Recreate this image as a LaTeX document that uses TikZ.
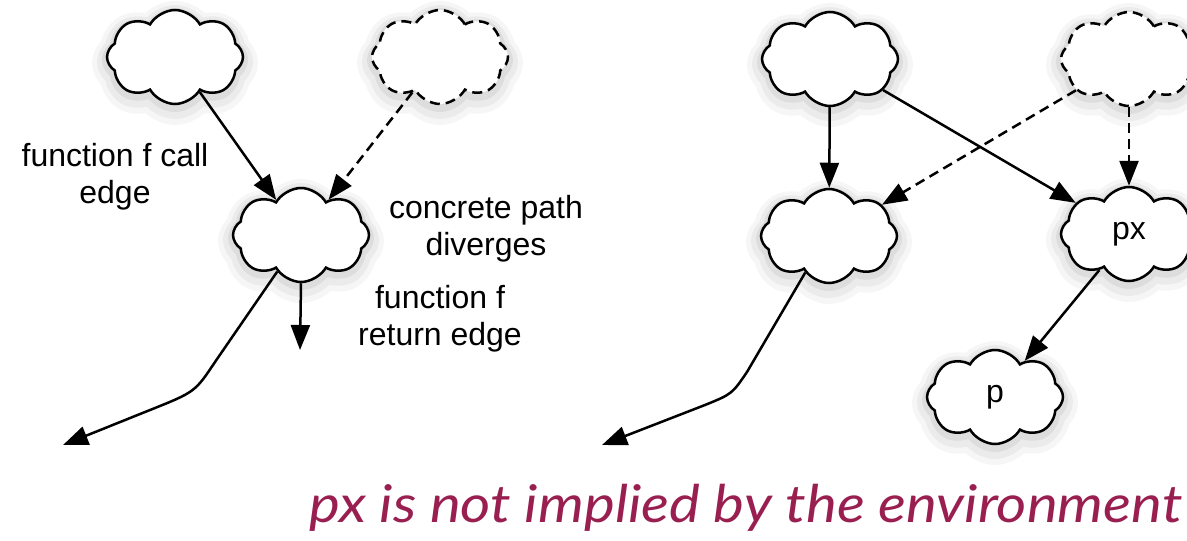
\documentclass[tikz,border=0pt]{standalone}
\usepackage{fontspec}
\setmainfont{Liberation Sans}
\newfontfamily\notefont{Lato}[FakeStretch=1.12]
\usetikzlibrary{shapes.symbols,arrows.meta}
\definecolor{notecol}{RGB}{153,31,80}
\tikzset{
  halo/.style={
    preaction={draw=black, solid, opacity=.035, line width=30pt, transform canvas={yshift=-6pt}},
    preaction={draw=black, solid, opacity=.045, line width=20pt, transform canvas={yshift=-5pt}},
    preaction={draw=black, solid, opacity=.06, line width=10pt, transform canvas={yshift=-3pt}}},
  cloudbox/.style={cloud, cloud puffs=8, cloud puff arc=120, aspect=1.45,
    minimum width=136pt, minimum height=94pt, inner sep=0pt,
    draw=black, line width=2.5pt, fill=white, halo,
    font=\fontsize{32}{38}\selectfont},
  ghostbox/.style={cloudbox, dash pattern=on 10pt off 6pt},
  label/.style={align=center, font=\fontsize{32}{37}\selectfont},
  arr/.style={line width=2.5pt, -{Triangle[length=25pt,width=19pt]}},
  darr/.style={arr, dash pattern=on 10pt off 6pt}
}
\begin{document}
\begin{tikzpicture}[x=1pt,y=-1pt]
\clip (0,0) rectangle (1187,541);
\fill[white] (0,0) rectangle (1187,541);

% left: call edge, divergence and return edge
\node[cloudbox]  (A) at (175,57) {};
\node[ghostbox]  (B) at (440,57) {};
\node[cloudbox]  (C) at (301,235) {};
\coordinate (retL) at (300,350);
\coordinate (endL) at (63,445);

\draw[arr]  (A) -- (C);
\draw[darr] (B) -- (C);
\draw[arr]  (C.south) -- (retL);
\draw[arr]  (C.-123) -- (215,362) .. controls (195,392) .. (150,410) -- (endL);

\node[label] (callL) at (115,177) {function f call\\edge};
\node[label] (divL)  at (486,229) {concrete path\\diverges};
\node[label] (retLb) at (440,319) {function f\\return edge};

% right: the spurious fact px
\node[cloudbox]  (D) at (830,59) {};
\node[ghostbox]  (E) at (1129,59) {};
\node[cloudbox]  (F) at (829,236) {};
\node[cloudbox]  (G) at (1129,234) {px};
\node[cloudbox]  (H) at (995,397) {p};
\coordinate (endR) at (602,445);

\draw[arr]  (D) -- (F);
\draw[arr]  (D) -- (G);
\draw[darr] (E) -- (F);
\draw[darr] (E) -- (G);
\draw[arr]  (G) -- (H);
\draw[arr]  (F.-123) -- (747,372) .. controls (732,394) .. (705,405) -- (endR);

\node[anchor=base, text=notecol, font=\notefont\itshape\fontsize{52}{56}\selectfont]
  (note) at (746,522) {px is not implied by the environment};
\end{tikzpicture}
\end{document}
